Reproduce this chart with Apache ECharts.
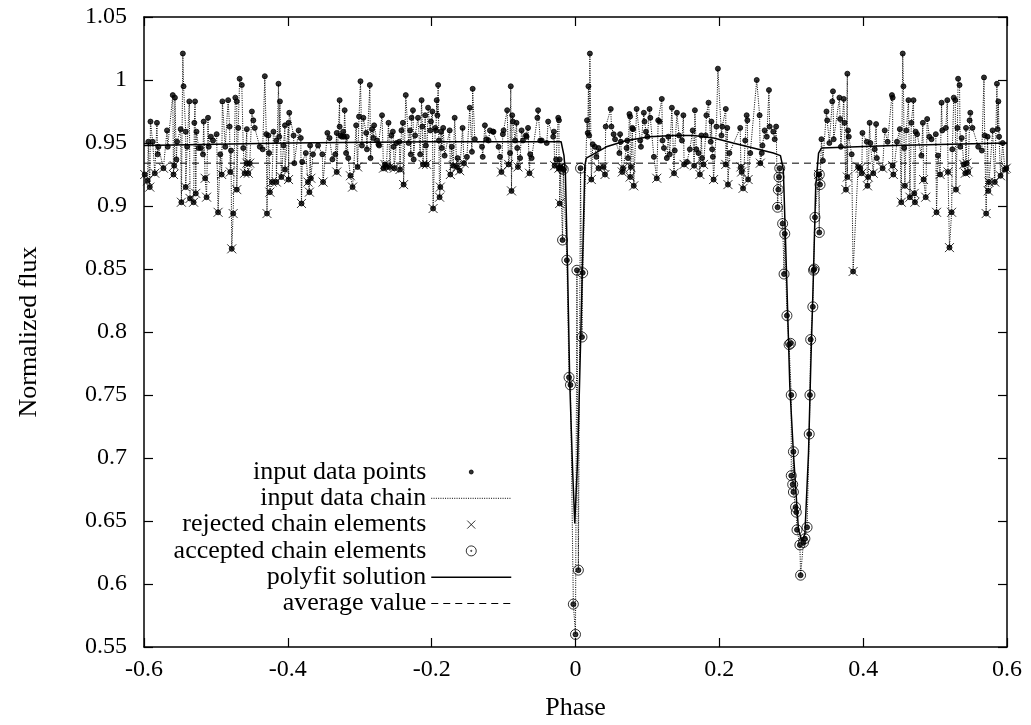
<!DOCTYPE html>
<html>
<head>
<meta charset="utf-8">
<title>Normalized flux vs phase</title>
<script src="https://cdn.jsdelivr.net/npm/echarts@6.0.0/dist/echarts.min.js"></script>
<style>
html, body { margin: 0; padding: 0; background: #fff; }
#chart { width: 1031px; height: 725px; }
</style>
</head>
<body>
<div id="chart"></div>
<script>
// light curve data, [phase, normalized flux]

// plain input points (not marked as chain elements)
var dotPoints = [
  [-0.594,0.951],[-0.591,0.967],[-0.588,0.951],[-0.582,0.966],[-0.581,0.941],[-0.580,0.947],[-0.568,0.960],[-0.567,0.947],
  [-0.560,0.988],[-0.557,0.986],[-0.555,0.937],[-0.554,0.951],[-0.549,0.961],[-0.546,1.021],[-0.545,0.995],[-0.542,0.959],
  [-0.540,0.947],[-0.537,0.983],[-0.530,0.966],[-0.529,0.983],[-0.527,0.959],[-0.524,0.946],[-0.521,0.946],[-0.518,0.941],
  [-0.517,0.967],[-0.511,0.970],[-0.510,0.947],[-0.507,0.955],[-0.504,0.952],[-0.499,0.957],[-0.494,0.941],[-0.491,0.983],
  [-0.487,0.947],[-0.483,0.984],[-0.481,0.963],[-0.479,0.944],[-0.473,0.986],[-0.471,0.983],[-0.469,0.962],[-0.467,1.001],
  [-0.464,0.996],[-0.462,0.946],[-0.457,0.961],[-0.450,0.975],[-0.448,0.968],[-0.446,0.962],[-0.439,0.947],[-0.435,0.945],
  [-0.432,1.003],[-0.430,0.957],[-0.427,0.956],[-0.426,0.942],[-0.420,0.959],[-0.416,0.952],[-0.413,0.997],[-0.412,0.955],
  [-0.411,0.983],[-0.406,0.948],[-0.404,0.964],[-0.399,0.966],[-0.398,0.974],[-0.392,0.956],[-0.391,0.934],[-0.385,0.960],
  [-0.382,0.954],[-0.380,0.935],[-0.375,0.942],[-0.369,0.948],[-0.365,0.941],[-0.358,0.948],[-0.352,0.941],[-0.345,0.958],
  [-0.342,0.954],[-0.338,0.937],[-0.334,0.941],[-0.332,0.958],[-0.328,0.984],[-0.328,0.963],[-0.327,0.956],[-0.325,0.955],
  [-0.323,0.959],[-0.322,0.955],[-0.321,0.976],[-0.319,0.942],[-0.318,0.955],[-0.316,0.938],[-0.305,0.964],[-0.301,0.971],
  [-0.299,0.999],[-0.297,0.948],[-0.295,0.970],[-0.291,0.958],[-0.290,0.945],[-0.286,0.996],[-0.285,0.938],[-0.283,0.961],
  [-0.281,0.954],[-0.280,0.964],[-0.276,0.952],[-0.274,0.949],[-0.273,0.948],[-0.269,0.972],[-0.260,0.966],[-0.256,0.956],
  [-0.254,0.959],[-0.253,0.947],[-0.249,0.950],[-0.245,0.951],[-0.242,0.960],[-0.240,0.966],[-0.236,0.988],[-0.232,0.950],
  [-0.230,0.960],[-0.229,0.941],[-0.228,0.970],[-0.226,0.976],[-0.225,0.937],[-0.223,0.956],[-0.219,0.970],[-0.216,0.941],
  [-0.214,0.984],[-0.213,0.963],[-0.209,0.972],[-0.208,0.948],[-0.205,0.978],[-0.202,0.960],[-0.201,0.967],[-0.199,0.975],
  [-0.195,0.962],[-0.194,0.960],[-0.193,0.984],[-0.192,0.972],[-0.191,0.996],[-0.190,0.952],[-0.187,0.959],[-0.186,0.946],
  [-0.184,0.962],[-0.182,0.940],[-0.175,0.960],[-0.172,0.947],[-0.168,0.970],[-0.164,0.938],[-0.157,0.962],[-0.151,0.939],
  [-0.147,0.978],[-0.144,0.943],[-0.143,0.993],[-0.140,0.953],[-0.130,0.947],[-0.129,0.939],[-0.126,0.964],[-0.124,0.953],
  [-0.121,0.952],[-0.119,0.960],[-0.115,0.959],[-0.114,0.959],[-0.107,0.947],[-0.105,0.939],[-0.101,0.957],[-0.100,0.960],
  [-0.095,0.976],[-0.091,0.942],[-0.090,0.995],[-0.088,0.972],[-0.087,0.967],[-0.084,0.952],[-0.082,0.966],[-0.081,0.946],
  [-0.077,0.938],[-0.075,0.960],[-0.073,0.952],[-0.069,0.956],[-0.068,0.955],[-0.066,0.962],[-0.063,0.941],[-0.061,0.938],
  [-0.053,0.970],[-0.052,0.976],[-0.049,0.952],[-0.047,0.952],[-0.040,0.950],[-0.038,0.967],[-0.031,0.955],[-0.030,0.959],
  [-0.027,0.937],[-0.024,0.970],[-0.023,0.968],[-0.022,0.937],
  [0.020,1.021],[0.018,0.995],[0.016,0.968],[0.017,0.958],[0.019,0.956],[0.024,0.949],[0.027,0.947],[0.029,0.939],
  [0.032,0.946],[0.042,0.963],[0.049,0.977],[0.050,0.963],[0.053,0.957],[0.055,0.953],[0.062,0.957],[0.061,0.942],
  [0.063,0.951],[0.072,0.952],[0.071,0.946],[0.073,0.938],[0.075,0.973],[0.076,0.971],[0.079,0.962],[0.080,0.961],
  [0.085,0.977],[0.090,0.952],[0.091,0.947],[0.095,0.974],[0.096,0.967],[0.098,0.959],[0.100,0.955],[0.103,0.977],
  [0.104,0.970],[0.109,0.939],[0.115,0.968],[0.117,0.967],[0.120,0.985],[0.121,0.952],[0.123,0.946],[0.127,0.938],
  [0.129,0.955],[0.131,0.941],[0.134,0.978],[0.138,0.944],[0.141,0.974],[0.144,0.956],[0.148,0.952],[0.150,0.972],
  [0.155,0.935],[0.159,0.945],[0.163,0.960],[0.166,0.976],[0.168,0.945],[0.171,0.942],[0.175,0.956],[0.176,0.938],
  [0.181,0.956],[0.182,0.972],[0.185,0.982],[0.189,0.967],[0.188,0.951],[0.190,0.945],[0.191,0.939],[0.196,0.963],
  [0.198,1.009],[0.203,0.956],[0.204,0.963],[0.209,0.977],[0.211,0.962],[0.214,0.942],[0.229,0.962],[0.236,0.952],
  [0.238,0.972],[0.239,0.968],[0.243,0.942],[0.252,1.000],[0.256,0.972],[0.259,0.942],[0.260,0.948],[0.263,0.960],
  [0.266,0.955],[0.269,0.992],[0.270,0.963],[0.275,0.959],[0.277,0.953],[0.279,0.963],
  [0.342,0.953],[0.344,0.936],[0.349,0.975],[0.350,0.968],[0.353,0.950],[0.358,0.991],[0.357,0.983],[0.359,0.953],
  [0.367,0.986],[0.368,0.969],[0.369,0.947],[0.373,0.985],[0.374,0.966],[0.378,1.005],[0.379,0.960],[0.380,0.955],
  [0.384,0.941],[0.399,0.958],[0.405,0.951],[0.409,0.966],[0.410,0.950],[0.416,0.945],[0.418,0.965],[0.419,0.938],
  [0.430,0.960],[0.434,0.951],[0.440,0.988],[0.441,0.986],[0.447,0.951],[0.451,0.961],[0.455,1.021],[0.456,0.995],
  [0.457,0.946],[0.460,0.960],[0.463,0.984],[0.467,0.966],[0.470,0.984],[0.473,0.959],[0.475,0.957],[0.481,0.940],
  [0.483,0.966],[0.489,0.969],[0.492,0.955],[0.495,0.953],[0.501,0.957],[0.504,0.940],[0.509,0.982],[0.510,0.960],
  [0.515,0.962],[0.517,0.984],[0.524,0.945],[0.526,0.986],[0.528,0.984],[0.531,0.962],[0.532,1.001],[0.534,0.996],
  [0.535,0.947],[0.537,0.954],[0.543,0.962],[0.548,0.968],[0.549,0.974],[0.552,0.962],[0.560,0.947],[0.565,0.944],
  [0.568,1.002],[0.569,0.956],[0.573,0.955],[0.580,0.960],[0.586,0.997],[0.587,0.961],[0.588,0.983],[0.589,0.955],
  [0.594,0.950]
];

// rejected chain elements (crosses)
var rejPoints = [
  [-0.599,0.925],[-0.595,0.920],[-0.592,0.915],[-0.585,0.926],[-0.573,0.930],[-0.559,0.925],[-0.558,0.932],[-0.548,0.903],
  [-0.542,0.915],[-0.536,0.906],[-0.531,0.903],[-0.528,0.910],[-0.515,0.922],[-0.513,0.907],[-0.497,0.895],[-0.492,0.925],
  [-0.480,0.927],[-0.478,0.866],[-0.476,0.894],[-0.471,0.913],[-0.460,0.926],[-0.457,0.934],[-0.455,0.926],[-0.453,0.934],
  [-0.429,0.894],[-0.425,0.911],[-0.422,0.919],[-0.416,0.919],[-0.409,0.923],[-0.404,0.929],[-0.399,0.921],[-0.381,0.902],
  [-0.372,0.919],[-0.370,0.911],[-0.368,0.922],[-0.351,0.919],
  [-0.332,0.927],[-0.313,0.924],[-0.310,0.915],[-0.303,0.931],[-0.267,0.930],[-0.265,0.933],[-0.263,0.931],[-0.258,0.931],
  [-0.252,0.930],[-0.244,0.929],[-0.239,0.917],[-0.212,0.933],[-0.207,0.933],[-0.198,0.898],[-0.189,0.907],[-0.188,0.915],
  [-0.174,0.925],[-0.170,0.932],[-0.165,0.931],[-0.161,0.928],[-0.155,0.934],[-0.103,0.927],[-0.093,0.933],[-0.089,0.912],
  [-0.080,0.931],[-0.064,0.926],[-0.029,0.932],[-0.023,0.930],[-0.022,0.902],[-0.021,0.931],
  [0.022,0.921],[0.032,0.930],[0.039,0.931],[0.041,0.925],[0.065,0.927],[0.066,0.930],[0.076,0.923],[0.077,0.931],
  [0.081,0.916],[0.113,0.922],[0.137,0.926],[0.151,0.933],[0.165,0.932],[0.173,0.925],[0.178,0.933],[0.192,0.921],
  [0.209,0.933],[0.212,0.917],[0.230,0.931],[0.231,0.927],[0.233,0.914],[0.240,0.921],[0.257,0.934],
  [0.338,0.925],[0.376,0.913],[0.378,0.923],[0.386,0.848],[0.393,0.931],[0.396,0.930],[0.398,0.926],[0.406,0.916],
  [0.407,0.923],[0.414,0.926],[0.427,0.930],[0.441,0.932],[0.442,0.925],[0.453,0.903],[0.458,0.916],[0.465,0.907],
  [0.471,0.910],[0.472,0.903],[0.484,0.921],[0.487,0.907],[0.502,0.895],[0.507,0.925],[0.518,0.927],[0.520,0.867],
  [0.523,0.895],[0.529,0.913],[0.540,0.933],[0.542,0.926],[0.544,0.934],[0.546,0.927],[0.571,0.894],[0.574,0.912],
  [0.575,0.919],[0.583,0.919],[0.591,0.924],[0.597,0.929],[0.599,0.930]
];

// accepted chain elements (circles), mostly inside the eclipses
var accPoints = [
  [-0.019,0.930],[-0.018,0.873],[-0.017,0.929],[-0.012,0.857],[-0.009,0.764],[-0.007,0.758],[-0.003,0.584],[0.000,0.560],
  [0.002,0.849],[0.004,0.611],[0.007,0.930],[0.009,0.796],[0.010,0.847],
  [0.281,0.899],[0.282,0.913],[0.283,0.923],[0.284,0.930],[0.288,0.886],[0.290,0.846],[0.291,0.878],[0.294,0.813],
  [0.297,0.790],[0.299,0.791],[0.300,0.750],[0.300,0.686],[0.302,0.679],[0.303,0.705],[0.303,0.673],[0.306,0.661],
  [0.307,0.657],[0.308,0.643],[0.312,0.631],[0.313,0.607],[0.317,0.633],[0.319,0.636],[0.322,0.645],[0.325,0.719],
  [0.326,0.750],[0.327,0.794],[0.330,0.820],[0.331,0.849],[0.332,0.850],[0.333,0.891],[0.339,0.879],[0.339,0.925],
  [0.340,0.917]
];

// polyfit solution
var fitPoints = [
  [-0.6,0.948],[-0.4,0.950],[-0.2,0.951],[-0.05,0.951],[-0.020,0.951],[-0.016,0.940],[-0.014,0.925],[-0.011,0.850],
  [-0.008,0.760],[-0.004,0.690],[-0.001,0.648],[0.003,0.700],[0.007,0.790],[0.010,0.860],[0.013,0.932],[0.015,0.938],
  [0.043,0.947],[0.071,0.952],[0.103,0.955],[0.136,0.956],[0.164,0.956],[0.192,0.954],[0.219,0.950],[0.247,0.946],
  [0.275,0.942],[0.285,0.940],[0.289,0.929],[0.294,0.836],[0.298,0.757],[0.303,0.704],[0.310,0.643],[0.315,0.634],
  [0.319,0.640],[0.324,0.704],[0.327,0.770],[0.331,0.849],[0.334,0.915],[0.338,0.942],[0.342,0.946],[0.442,0.948],
  [0.6,0.950]
];

var avgValue = 0.934;
var xTicks = { min: -0.6, max: 0.6, step: 0.2 };
var yTicks = { min: 0.55, max: 1.05, step: 0.05 };

// the chain connects every input point in phase order
var chain = dotPoints.concat(rejPoints, accPoints).sort(function (a, b) { return a[0] - b[0]; });

var FONT = 'Liberation Serif';
var CROSS = 'path://M0,0L10,10M10,0L0,10';
var DOT_ICON = 'path://M0,0M12,12M4,6A2,2,0,1,1,8,6A2,2,0,1,1,4,6Z';
var CROSS_ICON = 'path://M0,0M12,12M2,2L10,10M10,2L2,10';
var RING_ICON = 'path://M0,0M12,12M1,6A5,5,0,1,1,11,6A5,5,0,1,1,1,6ZM5.4,6A0.6,0.6,0,1,1,6.6,6A0.6,0.6,0,1,1,5.4,6Z';

function axisBase(t) {
    return {
        type: 'value',
        min: t.min,
        max: t.max,
        interval: t.step,
        axisLine: { show: true, onZero: false, lineStyle: { color: '#000', width: 1.5 } },
        axisTick: { show: true, inside: true, length: 9, lineStyle: { color: '#000', width: 1.2 } },
        splitLine: { show: false }
    };
}

var xMain = axisBase(xTicks);
xMain.position = 'bottom';
xMain.name = 'Phase';
xMain.nameLocation = 'middle';
xMain.nameGap = 48;
xMain.nameTextStyle = { fontFamily: FONT, fontSize: 26, color: '#000' };
xMain.axisLabel = { margin: 11, fontFamily: FONT, fontSize: 24, color: '#000' };

var xTop = axisBase(xTicks);
xTop.position = 'top';
xTop.axisLabel = { show: false };

var yMain = axisBase(yTicks);
yMain.position = 'left';
yMain.name = 'Normalized flux';
yMain.nameLocation = 'middle';
yMain.nameGap = 102;
yMain.nameTextStyle = { fontFamily: FONT, fontSize: 26, color: '#000' };
yMain.axisLabel = { margin: 17, fontFamily: FONT, fontSize: 24, color: '#000' };

var yRight = axisBase(yTicks);
yRight.position = 'right';
yRight.axisLabel = { show: false };

var myChart = echarts.init(document.getElementById('chart'));

var option = {
    animation: false,
    backgroundColor: '#fff',
    textStyle: { fontFamily: FONT, color: '#000' },
    grid: { left: 144, right: 24, top: 17, bottom: 78, outerBoundsMode: 'none' },
    xAxis: [xMain, xTop],
    yAxis: [yMain, yRight],
    legend: {
        orient: 'vertical',
        align: 'right',
        right: 519,
        top: 459,
        padding: 0,
        itemWidth: 80,
        itemHeight: 12,
        itemGap: 0.3,
        selectedMode: false,
        symbolKeepAspect: true,
        textStyle: { fontFamily: FONT, fontSize: 26, color: '#000', lineHeight: 26 },
        itemStyle: { borderWidth: 1 },
        lineStyle: { width: 1 },
        data: [
            { name: 'input data points', icon: DOT_ICON },
            { name: 'input data chain', itemStyle: { opacity: 0 } },
            { name: 'rejected chain elements', icon: CROSS_ICON },
            { name: 'accepted chain elements', icon: RING_ICON },
            { name: 'polyfit solution', itemStyle: { opacity: 0 }, lineStyle: { width: 1.5 } },
            { name: 'average value', itemStyle: { opacity: 0 } }
        ]
    },
    series: [
        {
            name: 'input data points',
            type: 'scatter',
            data: chain,
            symbol: 'circle',
            symbolSize: 5,
            itemStyle: { color: '#000', borderColor: '#000' },
            z: 6,
            silent: true
        },
        {
            name: 'input data chain',
            type: 'line',
            data: chain,
            symbol: 'none',
            lineStyle: { color: '#000', width: 1, type: [1, 1.3] },
            z: 2,
            silent: true
        },
        {
            name: 'rejected chain elements',
            type: 'scatter',
            data: rejPoints,
            symbol: CROSS,
            symbolSize: 9,
            itemStyle: { color: 'transparent', borderColor: '#000', borderWidth: 1 },
            z: 4,
            silent: true
        },
        {
            name: 'accepted chain elements',
            type: 'scatter',
            data: accPoints,
            symbol: 'circle',
            symbolSize: 10,
            itemStyle: { color: 'transparent', borderColor: '#000', borderWidth: 1 },
            z: 4,
            silent: true
        },
        {
            name: 'polyfit solution',
            type: 'line',
            data: fitPoints,
            symbol: 'none',
            lineStyle: { color: '#000', width: 1.5, type: 'solid' },
            z: 5,
            silent: true
        },
        {
            name: 'average value',
            type: 'line',
            data: [[xTicks.min, avgValue], [xTicks.max, avgValue]],
            symbol: 'none',
            lineStyle: { color: '#000', width: 1, type: [7, 5] },
            z: 5,
            silent: true
        }
    ]
};

myChart.setOption(option);
</script>
</body>
</html>
